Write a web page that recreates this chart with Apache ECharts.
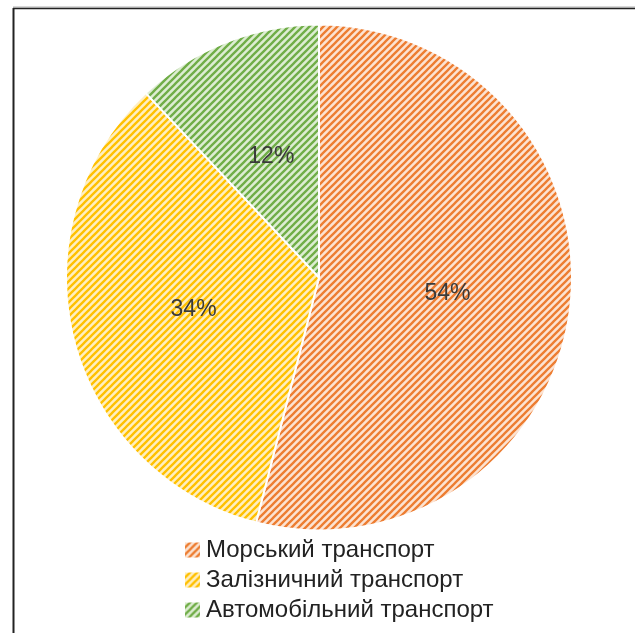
<!DOCTYPE html>
<html>
<head>
<meta charset="utf-8">
<script src="https://cdn.jsdelivr.net/npm/echarts@6/dist/echarts.min.js"></script>
<style>
html,body{margin:0;padding:0;background:#fff;}
#c{width:635px;height:633px;}
</style>
</head>
<body>
<div id="c"></div>
<script>
var categories = ['Морський транспорт', 'Залізничний транспорт', 'Автомобільний транспорт'];
var values = [54, 34, 12];
var baseColors = ['#ED7D31', '#FFC000', '#70AD47'];
var tintColors = ['#FCE3D2', '#FFEFC0', '#DDEDD2'];

function makePattern(fg, bg) {
  var s = 7;
  var cv = document.createElement('canvas');
  cv.width = s; cv.height = s;
  var ctx = cv.getContext('2d');
  ctx.fillStyle = bg;
  ctx.fillRect(0, 0, s, s);
  ctx.strokeStyle = fg;
  ctx.lineWidth = 2.3;
  ctx.beginPath();
  for (var k = -1; k <= 1; k++) {
    ctx.moveTo(k * s - 1, s + 1);
    ctx.lineTo(k * s + s + 1, -1);
  }
  ctx.stroke();
  return { image: cv, repeat: 'repeat' };
}

var chart = echarts.init(document.getElementById('c'), null, { renderer: 'canvas' });
var data = categories.map(function (n, i) {
  return { name: n, value: values[i], itemStyle: { color: makePattern(baseColors[i], tintColors[i]) } };
});

chart.setOption({
  animation: false,
  backgroundColor: '#fff',
  legend: {
    orient: 'vertical',
    left: 183,
    top: 537,
    padding: 0,
    height: 96,
    itemWidth: 17,
    itemHeight: 17,
    itemGap: 4,
    icon: 'rect',
    textStyle: { fontFamily: 'Liberation Sans', fontSize: 24, lineHeight: 26, color: '#222222' },
    data: categories
  },
  graphic: [
    { type: 'line', shape: { x1: 13, y1: 7, x2: 635, y2: 7 }, style: { stroke: '#b0b0b0', lineWidth: 1 } },
    { type: 'line', shape: { x1: 13, y1: 8.5, x2: 635, y2: 8.5 }, style: { stroke: '#222', lineWidth: 1.5 } },
    { type: 'line', shape: { x1: 13.5, y1: 8, x2: 13.5, y2: 633 }, style: { stroke: '#222', lineWidth: 2 } }
  ],
  series: [{
    type: 'pie',
    center: [319, 277.5],
    radius: [0, 253],
    startAngle: 90,
    clockwise: true,
    data: data,
    itemStyle: { borderColor: '#fff', borderWidth: 2 },
    label: {
      position: 'inner',
      formatter: '{c}%',
      fontFamily: 'Liberation Sans',
      fontSize: 23,
      color: '#3a3a3a'
    },
    labelLine: { show: false },
    emphasis: { disabled: true }
  }]
});
</script>
</body>
</html>
